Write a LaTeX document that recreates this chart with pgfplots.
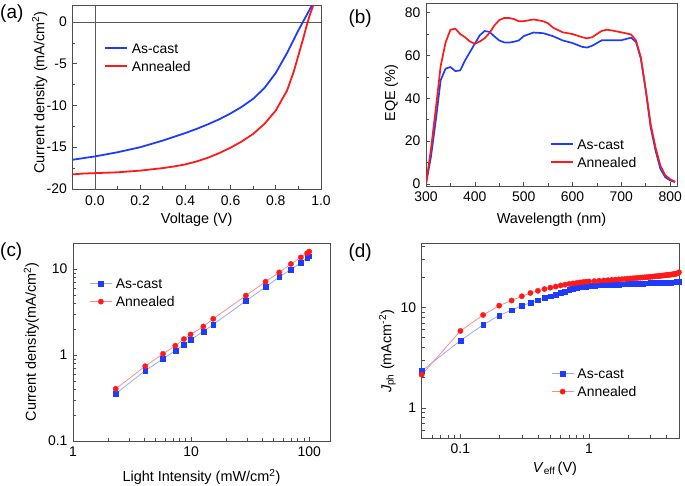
\documentclass[border=0pt]{standalone}
\usepackage{fontspec}
\setmainfont{Liberation Sans}
\usepackage{pgfplots}
\pgfplotsset{compat=1.18}

\definecolor{cblue}{RGB}{30,60,255}
\definecolor{cred}{RGB}{255,25,25}
\definecolor{lblue}{RGB}{150,170,255}
\definecolor{lred}{RGB}{255,140,140}
\newcommand{\labfont}{\fontsize{14.5}{17}\selectfont}

\pgfplotsset{
  panel/.style={
    scale only axis,
    axis line style={black!70, line width=0.8pt},
    tick style={black!70, line width=0.6pt},
    tick align=inside,
    xtick pos=bottom, ytick pos=left,
    /pgf/number format/assume math mode=true,
    tick label style={font=\fontsize{14}{16}\selectfont},
    xticklabel style={yshift=-2bp},
    yticklabel style={xshift=-2bp},
    legend cell align=left,
    legend style={draw=none, fill=none, inner sep=0pt, font=\fontsize{14}{16}\selectfont,
      nodes={inner sep=0pt, text height=10bp, text depth=0pt},
      column sep=3.5bp, row sep=8bp, anchor=north west},
  },
  xlab/.style 2 args={every axis x label/.style={at={(axis description cs:#1,#2)},
      anchor=base, font=\labfont}},
  ylab/.style 2 args={every axis y label/.style={at={(axis description cs:#1,#2)},
      rotate=90, anchor=base, font=\labfont}},
  lineleg/.style={legend image code/.code={\draw[##1, line width=1.7pt] (0bp,0bp) -- (22bp,0bp);}},
  markleg/.style={legend image code/.code={\draw[mark repeat=2, mark phase=2, ##1]
      plot coordinates {(0bp,0bp) (11bp,0bp) (22bp,0bp)};}},
  bluemk/.style={color=lblue, line width=0.8pt, mark=square*, mark size=2.4pt,
      mark options={draw=cblue, fill=cblue, line width=0.3pt}},
  redmk/.style={color=lred, line width=0.8pt, mark=*, mark size=2.7pt,
      mark options={draw=cred, fill=cred, line width=0.3pt}},
}

\begin{document}
\begin{tikzpicture}
\useasboundingbox (0,0) rectangle (685bp,-486bp);

% (a) J-V curves
\begin{axis}[panel, lineleg,
  at={(72.3bp,-5.3bp)}, anchor=north west,
  width=248.7bp, height=183.7bp,
  xmin=-0.1, xmax=1.0, ymin=-20, ymax=2,
  xtick={0,0.2,0.4,0.6,0.8,1.0}, minor x tick num=1,
  ytick={-20,-15,-10,-5,0}, minor y tick num=1,
  xticklabel style={yshift=-1bp, /pgf/number format/fixed,
    /pgf/number format/fixed zerofill, /pgf/number format/precision=1},
  xlabel={Voltage (V)},
  ylabel={Current density (mA/cm\textsuperscript{2})},
  xlab={0.5}{-0.187}, ylab={-0.112}{0.525},
  legend style={at={(axis description cs:0.129,0.7957)}},
]
\addplot[black!65, line width=0.8pt, forget plot] coordinates {(0,-20) (0,2)};
\addplot[black!65, line width=0.8pt, forget plot] coordinates {(-0.1,0) (1.0,0)};
\addplot[cblue, line width=1.8pt] coordinates {
  (-0.1,-16.5) (-0.05,-16.3) (0.0,-16.1) (0.05,-15.85) (0.1,-15.6) (0.15,-15.3)
  (0.2,-15.0) (0.25,-14.6) (0.3,-14.2) (0.35,-13.75) (0.4,-13.3) (0.45,-12.8)
  (0.5,-12.25) (0.55,-11.65) (0.6,-10.95) (0.65,-10.15) (0.7,-9.2) (0.75,-7.9)
  (0.8,-6.1) (0.85,-3.7) (0.9,-1.0) (0.92,0) (0.94,1.0) (0.96,2.0)
};
\addplot[cred, line width=1.8pt] coordinates {
  (-0.1,-18.25) (-0.05,-18.15) (0.0,-18.1) (0.05,-18.05) (0.1,-18.0) (0.15,-17.9)
  (0.2,-17.8) (0.25,-17.65) (0.3,-17.5) (0.35,-17.3) (0.4,-17.05) (0.45,-16.7)
  (0.5,-16.25) (0.55,-15.7) (0.6,-15.05) (0.65,-14.3) (0.7,-13.4) (0.75,-12.2)
  (0.8,-10.6) (0.85,-8.2) (0.88,-5.9) (0.9,-4.0) (0.92,-2.1) (0.94,-0.1)
  (0.95,0.8) (0.966,2.0)
};
\legend{As-cast, Annealed}
\end{axis}

% (b) EQE
\begin{axis}[panel, lineleg,
  at={(426bp,-3bp)}, anchor=north west,
  width=251bp, height=183bp,
  xmin=300, xmax=814, ymin=-1, ymax=84.5,
  xtick={300,400,...,800}, minor x tick num=1,
  ytick={0,20,40,60,80}, minor y tick num=1,
  xlabel={Wavelength (nm)},
  ylabel={EQE (\%)},
  xlab={0.5}{-0.204}, ylab={-0.1235}{0.508},
  legend style={at={(axis description cs:0.494,0.257)}},
]
\addplot[cblue, line width=1.7pt] table {
300 0
310 12.5
320 29.6
330 48.4
340 53.8
350 54.6
360 52.7
370 53
380 57.7
390 61.6
400 65.5
410 69.4
420 71.4
430 71
440 68.9
450 67
460 66.1
470 66
480 66.4
490 67
500 69
520 70.7
540 70.4
560 69
580 67
600 65.8
620 64
630 63.7
640 64.5
660 67.1
680 67.1
700 67.1
720 68.3
730 66.3
740 58.5
750 43.7
760 26.5
770 15.6
780 7
790 3.1
800 1.6
810 0.8
};
\addplot[cred, line width=1.7pt] table {
300 0
310 16
320 35
330 55
340 66
350 72
360 72.5
370 70
380 68.5
390 66.5
400 65.5
410 66.5
420 68
430 70.5
440 74
450 76.5
460 77.5
470 77.5
480 77
490 76
500 76
520 76.8
540 76
550 75
560 73
580 70.8
600 70
620 68.5
630 68
640 68.5
660 71.5
670 72
680 71.7
700 70.8
720 69.8
730 67
740 59
750 44
760 28
770 17
780 8.5
790 4
800 2.2
810 1
};
\legend{As-cast, Annealed}
\end{axis}

% (c) J vs light intensity
\begin{axis}[panel, markleg,
  at={(73bp,-243bp)}, anchor=north west,
  width=257bp, height=198bp,
  xmode=log, ymode=log,
  xmin=1, xmax=150, ymin=0.1, ymax=20,
  xtick={1,10,100}, xticklabels={1,10,100},
  minor xtick={2,3,4,5,6,7,8,9,20,30,40,50,60,70,80,90},
  ytick={0.1,1,10}, yticklabels={0.1,1,10},
  minor ytick={0.2,0.3,0.4,0.5,0.6,0.7,0.8,0.9,2,3,4,5,6,7,8,9},
  xlabel={Light Intensity (mW/cm\textsuperscript{2})},
  ylabel={Current density(mA/cm\textsuperscript{2})},
  xlab={0.5}{-0.206}, ylab={-0.144}{0.5},
  legend style={at={(axis description cs:0.0634,0.821)}},
]
\addplot[bluemk] coordinates {
  (2.30,0.354) (4.09,0.659) (5.78,0.90) (7.35,1.12) (8.69,1.32) (9.9,1.50)
  (12.7,1.88) (15.4,2.26) (29.1,4.25) (42.7,6.16) (55.7,8.05) (70,9.87)
  (85,11.8) (96,13.5) (100,14.1)
};
\addplot[redmk] coordinates {
  (2.30,0.404) (4.09,0.74) (5.78,1.03) (7.35,1.28) (8.69,1.53) (9.9,1.73)
  (12.7,2.14) (15.4,2.63) (29.1,4.9) (42.7,7.1) (55.7,9.1) (70,11.4)
  (85,13.6) (96,15.2) (100,15.9)
};
\legend{As-cast, Annealed}
\end{axis}

% (d) Jph vs Veff
\begin{axis}[panel, markleg,
  at={(421.7bp,-243bp)}, anchor=north west,
  width=257.3bp, height=195.3bp,
  xmode=log, ymode=log,
  xmin=0.05, xmax=5, ymin=0.5, ymax=43.6,
  xtick={0.1,1}, xticklabels={0.1,1},
  minor xtick={0.06,0.07,0.08,0.09,0.2,0.3,0.4,0.5,0.6,0.7,0.8,0.9,2,3,4},
  ytick={1,10}, yticklabels={1,10},
  minor ytick={0.6,0.7,0.8,0.9,2,3,4,5,6,7,8,9,20,30,40},
  xlabel={\textit{V}\textsubscript{eff}\,(V)},
  ylabel={\textit{J}\textsubscript{ph} (mAcm\textsuperscript{-2})},
  xlab={0.518}{-0.173}, ylab={-0.118}{0.445},
  legend style={at={(axis description cs:0.5025,0.358)}},
]
\addplot[bluemk] coordinates {
  (0.05,2.34) (0.10,4.68) (0.15,6.7) (0.20,8.3) (0.25,9.4) (0.30,10.4)
  (0.35,11.1) (0.40,11.8) (0.45,12.4) (0.50,12.9) (0.55,13.4) (0.60,13.9)
  (0.65,14.4) (0.70,14.9) (0.75,15.3) (0.80,15.6) (0.85,15.85) (0.90,16.0)
  (0.95,16.15) (1.0,16.3) (1.1,16.5) (1.2,16.6) (1.3,16.7) (1.4,16.78)
  (1.5,16.85) (1.6,16.9) (1.7,16.95) (1.8,17.0) (1.9,17.05) (2.0,17.1)
  (2.1,17.14) (2.2,17.18) (2.3,17.22) (2.4,17.26) (2.5,17.3) (2.6,17.33)
  (2.7,17.36) (2.8,17.39) (2.9,17.42) (3.0,17.45) (3.1,17.48) (3.2,17.51)
  (3.3,17.54) (3.4,17.57) (3.5,17.6) (3.6,17.62) (3.7,17.64) (3.8,17.66)
  (3.9,17.68) (4.0,17.7) (4.1,17.72) (4.2,17.74) (4.3,17.76) (4.4,17.78)
  (4.5,17.8) (4.6,17.82) (4.7,17.84) (4.8,17.86) (4.9,17.88) (5.0,17.9)
};
\addplot[redmk] coordinates {
  (0.05,2.14) (0.10,5.83) (0.15,8.4) (0.20,10.4) (0.25,11.7) (0.30,12.9)
  (0.35,13.9) (0.40,14.6) (0.45,15.2) (0.50,15.7) (0.55,16.1) (0.60,16.5)
  (0.65,16.8) (0.70,17.1) (0.75,17.3) (0.80,17.5) (0.85,17.7) (0.90,17.85)
  (0.95,18.0) (1.0,18.1) (1.1,18.25) (1.2,18.4) (1.3,18.5) (1.4,18.62)
  (1.5,18.74) (1.6,18.85) (1.7,18.95) (1.8,19.05) (1.9,19.15) (2.0,19.25)
  (2.1,19.35) (2.2,19.45) (2.3,19.54) (2.4,19.63) (2.5,19.72) (2.6,19.8)
  (2.7,19.88) (2.8,19.96) (2.9,20.04) (3.0,20.12) (3.1,20.2) (3.2,20.28)
  (3.3,20.36) (3.4,20.44) (3.5,20.52) (3.6,20.6) (3.7,20.68) (3.8,20.76)
  (3.9,20.84) (4.0,20.92) (4.1,21.0) (4.2,21.08) (4.3,21.16) (4.4,21.24)
  (4.5,21.32) (4.6,21.42) (4.7,21.52) (4.8,21.64) (4.9,21.8) (5.0,22.3)
};
\legend{As-cast, Annealed}
\end{axis}

\node[anchor=base west, inner sep=0pt, font=\fontsize{19}{22}\selectfont] at (0bp,-18.3bp) {(a)};
\node[anchor=base west, inner sep=0pt, font=\fontsize{19}{22}\selectfont] at (348.3bp,-23.3bp) {(b)};
\node[anchor=base west, inner sep=0pt, font=\fontsize{19}{22}\selectfont] at (0bp,-256bp) {(c)};
\node[anchor=base west, inner sep=0pt, font=\fontsize{19}{22}\selectfont] at (348.3bp,-257.3bp) {(d)};
\end{tikzpicture}
\end{document}
